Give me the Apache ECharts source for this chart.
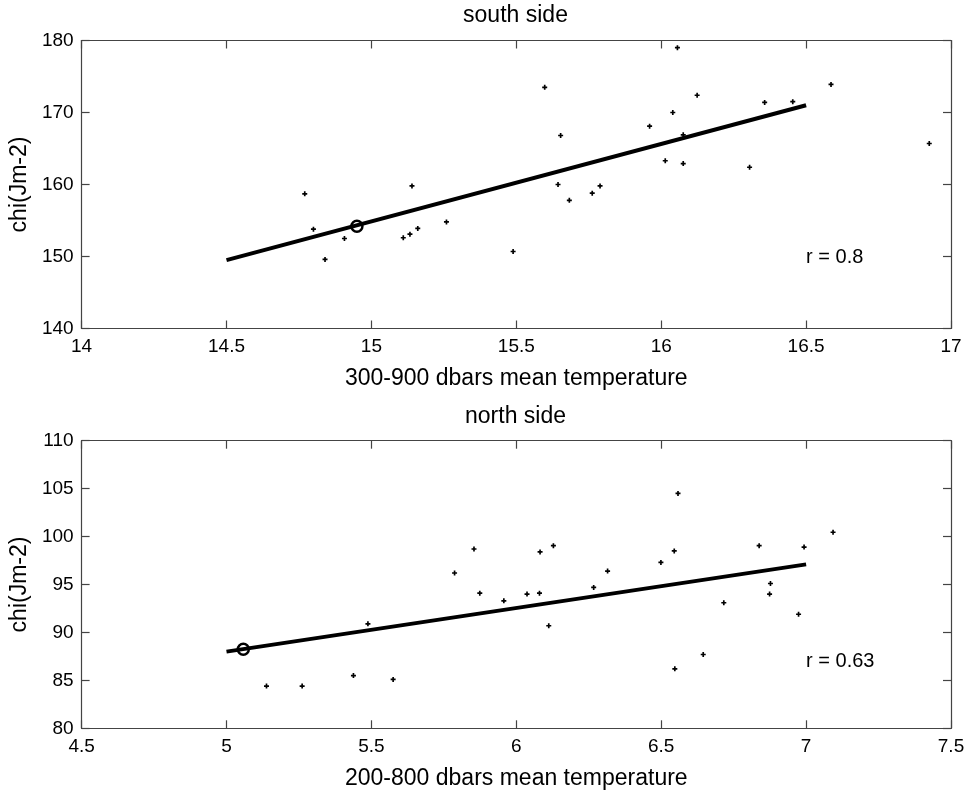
<!DOCTYPE html>
<html>
<head>
<meta charset="utf-8">
<script src="https://cdn.jsdelivr.net/npm/echarts@6/dist/echarts.min.js"></script>
<style>
html,body{margin:0;padding:0;background:#fff;}
#c{width:971px;height:795px;}
</style>
</head>
<body>
<div id="c"></div>
<script>
// ---- data: south side ----
var southX = [14.77,14.80,14.84,14.907,15.11,15.133,15.16,15.14,15.259,15.489,15.644,15.598,15.653,15.683,15.762,15.789,15.96,16.014,16.04,16.056,16.076,16.076,16.124,16.305,16.357,16.454,16.586,16.925];
var southY = [158.7,153.8,149.6,152.5,152.6,153.1,153.9,159.8,154.8,150.7,160.0,173.5,166.8,157.8,158.8,159.8,168.1,163.3,170.0,179.0,166.9,162.9,172.4,162.4,171.4,171.5,173.9,165.7];
var southFitX = [14.5, 16.5];
var southFitY = [149.5, 171.0];
var southMark = [14.95, 154.2];
var southR = "r = 0.8";
var southRPos = [16.5, 149.9];
var southTitle = "south side";
var southXName = "300-900 dbars mean temperature";

// ---- data: north side ----
var northX = [5.138,5.261,5.438,5.575,5.488,5.787,5.854,5.874,5.957,6.037,6.08,6.082,6.128,6.112,6.267,6.315,6.499,6.545,6.558,6.547,6.645,6.716,6.838,6.877,6.874,6.974,6.993,7.093];
var northY = [84.4,84.4,85.5,85.1,90.9,96.2,98.7,94.1,93.3,94.0,94.1,98.4,99.05,90.7,94.7,96.4,97.3,98.5,104.5,86.2,87.7,93.1,99.05,95.1,94.0,91.9,98.9,100.45];
var northFitX = [5.0, 7.0];
var northFitY = [88.0, 97.1];
var northMark = [5.058, 88.24];
var northR = "r = 0.63";
var northRPos = [7.0, 86.95];
var northTitle = "north side";
var northXName = "200-800 dbars mean temperature";

var yName = "chi(Jm-2)";

var FONT = "Liberation Sans";
var AX = '#444';

function zip(a, b){ return a.map(function(v,i){ return [v, b[i]]; }); }

var plus = 'path://M1,0H2V1H3V2H2V3H1V2H0V1H1Z';

function xAxes(gi, min, max, interval, name){
  return [{
    gridIndex: gi, type:'value', min:min, max:max, interval:interval, position:'bottom',
    name:name, nameLocation:'middle', nameGap:39,
    nameTextStyle:{fontFamily:FONT, fontSize:23, color:'#000'},
    axisLine:{show:true, onZero:false, lineStyle:{color:AX, width:1.2}},
    axisTick:{show:true, inside:true, length:8, lineStyle:{color:AX, width:1.2}},
    axisLabel:{show:true, margin:9, fontFamily:FONT, fontSize:19, color:'#000', showMinLabel:true, showMaxLabel:true},
    splitLine:{show:false}
  },{
    gridIndex: gi, type:'value', min:min, max:max, interval:interval, position:'top',
    axisLine:{show:true, onZero:false, lineStyle:{color:AX, width:1.2}},
    axisTick:{show:true, inside:true, length:8, lineStyle:{color:AX, width:1.2}},
    axisLabel:{show:false}, splitLine:{show:false}
  }];
}
function yAxes(gi, min, max, interval){
  return [{
    gridIndex: gi, type:'value', min:min, max:max, interval:interval, position:'left',
    name:yName, nameLocation:'middle', nameGap:46, nameRotate:90,
    nameTextStyle:{fontFamily:FONT, fontSize:23, color:'#000'},
    axisLine:{show:true, onZero:false, lineStyle:{color:AX, width:1.2}},
    axisTick:{show:true, inside:true, length:8, lineStyle:{color:AX, width:1.2}},
    axisLabel:{show:true, margin:8, fontFamily:FONT, fontSize:19, color:'#000', showMinLabel:true, showMaxLabel:true},
    splitLine:{show:false}
  },{
    gridIndex: gi, type:'value', min:min, max:max, interval:interval, position:'right',
    axisLine:{show:true, onZero:false, lineStyle:{color:AX, width:1.2}},
    axisTick:{show:true, inside:true, length:8, lineStyle:{color:AX, width:1.2}},
    axisLabel:{show:false}, splitLine:{show:false}
  }];
}

function panelSeries(xi, yi, px, py, fx, fy, mark, rtxt, rpos){
  return [{
    type:'scatter', xAxisIndex:xi, yAxisIndex:yi, data:zip(px, py),
    symbol:plus, symbolSize:5, itemStyle:{color:'#000', opacity:1}, silent:true, z:3
  },{
    type:'line', xAxisIndex:xi, yAxisIndex:yi, data:zip(fx, fy),
    symbol:'none', lineStyle:{color:'#000', width:4}, silent:true, z:4
  },{
    type:'scatter', xAxisIndex:xi, yAxisIndex:yi, data:[mark],
    symbol:'circle', symbolSize:11, itemStyle:{color:'rgba(255,255,255,0)', borderColor:'#000', borderWidth:2.5, opacity:1}, silent:true, z:5
  },{
    type:'scatter', xAxisIndex:xi, yAxisIndex:yi, data:[rpos],
    symbolSize:0, silent:true, itemStyle:{opacity:1},
    label:{show:true, position:'right', distance:0, formatter:rtxt, fontFamily:FONT, fontSize:20, color:'#000'}
  }];
}

var chart = echarts.init(document.getElementById('c'), null, {renderer:'canvas'});
chart.setOption({
  animation:false,
  backgroundColor:'#fff',
  graphic:[
    {type:'text', x:515.5, y:16, style:{text:southTitle, textAlign:'center', textVerticalAlign:'middle', fontFamily:FONT, fontSize:23, fill:'#000'}},
    {type:'text', x:515.5, y:416.5, style:{text:northTitle, textAlign:'center', textVerticalAlign:'middle', fontFamily:FONT, fontSize:23, fill:'#000'}}
  ],
  grid:[
    {left:80, top:40.5, width:871, height:288},
    {left:80, top:440.7, width:871, height:287.6}
  ],
  xAxis: xAxes(0, 14, 17, 0.5, southXName).concat(xAxes(1, 4.5, 7.5, 0.5, northXName)),
  yAxis: yAxes(0, 140, 180, 10).concat(yAxes(1, 80, 110, 5)),
  series: panelSeries(0, 0, southX, southY, southFitX, southFitY, southMark, southR, southRPos)
    .concat(panelSeries(2, 2, northX, northY, northFitX, northFitY, northMark, northR, northRPos))
});
</script>
</body>
</html>
